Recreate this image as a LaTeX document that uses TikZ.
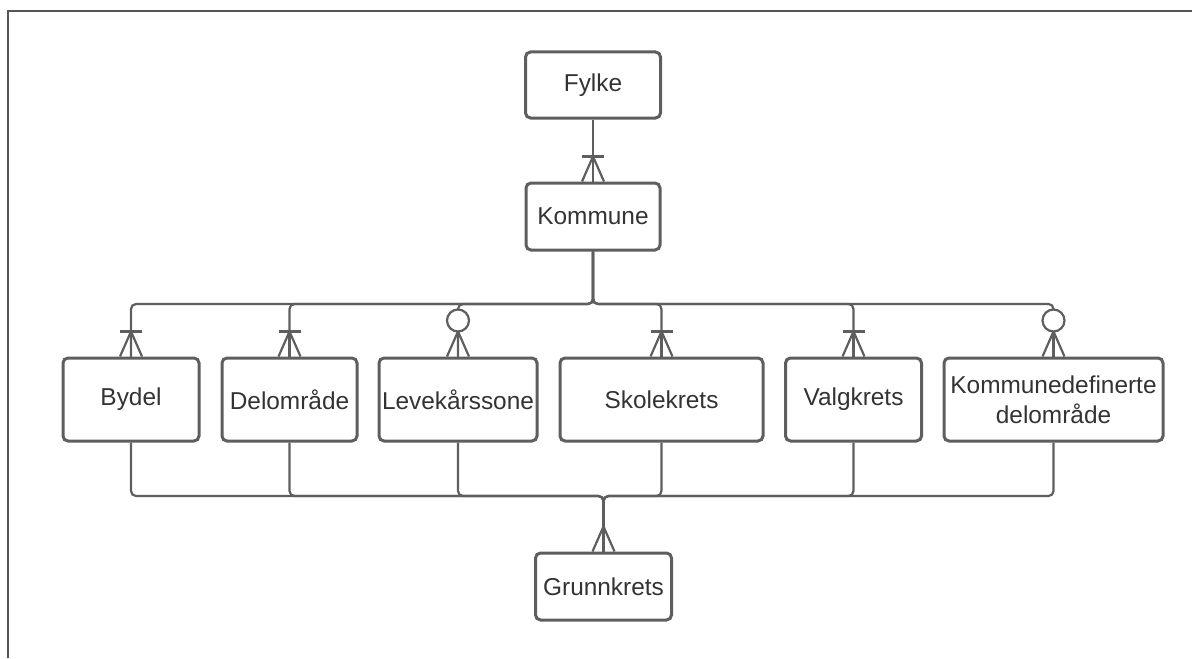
\documentclass[tikz,border=0pt]{standalone}
\usepackage{fontspec}
\setmainfont{Liberation Sans}
\definecolor{linec}{HTML}{5E5E5E}
\definecolor{textc}{HTML}{333333}
\definecolor{framec}{HTML}{555555}
\tikzset{
  ent/.style={draw=linec, line width=1.5pt, rounded corners=2.5pt, fill=white,
    inner sep=0pt, align=center, text=textc,
    font=\fontsize{12.2}{15}\selectfont},
  conn/.style={draw=linec, line width=1.1pt},
}
\newcommand\onemany[1]{%
  \draw[conn] ([xshift=-5.5pt]#1.north) -- ([yshift=12.5pt]#1.north) -- ([xshift=5.5pt]#1.north);
  \draw[conn] ([shift={(-5.5pt,12.5pt)}]#1.north) -- ([shift={(5.5pt,12.5pt)}]#1.north);
  \draw[conn] ([yshift=12.5pt]#1.north) -- (#1.north);}
\newcommand\zeromany[1]{%
  \draw[conn] ([xshift=-5.5pt]#1.north) -- ([yshift=12.5pt]#1.north) -- ([xshift=5.5pt]#1.north);
  \draw[conn] ([yshift=12.5pt]#1.north) -- (#1.north);
  \draw[conn, fill=white] ([yshift=18pt]#1.north) circle[radius=5.5pt];}
\newcommand\onlymany[1]{%
  \draw[conn] ([xshift=-5.5pt]#1.north) -- ([yshift=12.5pt]#1.north) -- ([xshift=5.5pt]#1.north);
  \draw[conn] ([yshift=12.5pt]#1.north) -- (#1.north);}
\begin{document}
\begin{tikzpicture}[x=0.5pt, y=-0.5pt]
\useasboundingbox (0,0) rectangle (1192,658);
% frame
\draw[framec, line width=1pt] (8,658) -- (8,11) -- (1192,11);
% entities
\node[ent, minimum width=67.5pt, minimum height=33pt] (fylke) at (593,85) {Fylke};
\node[ent, minimum width=67pt, minimum height=33.5pt] (kom) at (593,216.5) {Kommune};
\node[ent, minimum width=68pt, minimum height=41.5pt] (bydel) at (131,399.5) {Bydel};
\node[ent, minimum width=67.5pt, minimum height=41.5pt] (delo) at (289.5,399.5) {Delområde};
\node[ent, minimum width=79pt, minimum height=41.5pt] (leve) at (458,399.5) {Levekårssone};
\node[ent, minimum width=101.5pt, minimum height=41.5pt] (skole) at (661.5,399.5) {Skolekrets};
\node[ent, minimum width=68pt, minimum height=41.5pt] (valg) at (853.5,399.5) {Valgkrets};
\node[ent, minimum width=109.5pt, minimum height=41.5pt] (kdef) at (1053.5,399.5) {Kommunedefinerte\\delområde};
\node[ent, minimum width=68pt, minimum height=33.5pt] (grk) at (603.5,586.5) {Grunnkrets};
% junction coordinates
\coordinate (topbus) at (593,304);
\coordinate (botbus) at (603.5,496);
% Fylke - Kommune
\draw[conn] (fylke.south) -- (kom.north);
\onemany{kom}
% Kommune - children
\foreach \c in {bydel,delo,leve,skole,valg,kdef}{
  \draw[conn, rounded corners=2.5pt] (kom.south) -- (topbus) -| (\c.north);
}
\onemany{bydel}
\onemany{delo}
\zeromany{leve}
\onemany{skole}
\onemany{valg}
\zeromany{kdef}
% children - Grunnkrets
\foreach \c in {bydel,delo,leve,skole,valg,kdef}{
  \draw[conn, rounded corners=2.5pt] (\c.south) |- (botbus) -- (grk.north);
}
\onlymany{grk}
\end{tikzpicture}
\end{document}
